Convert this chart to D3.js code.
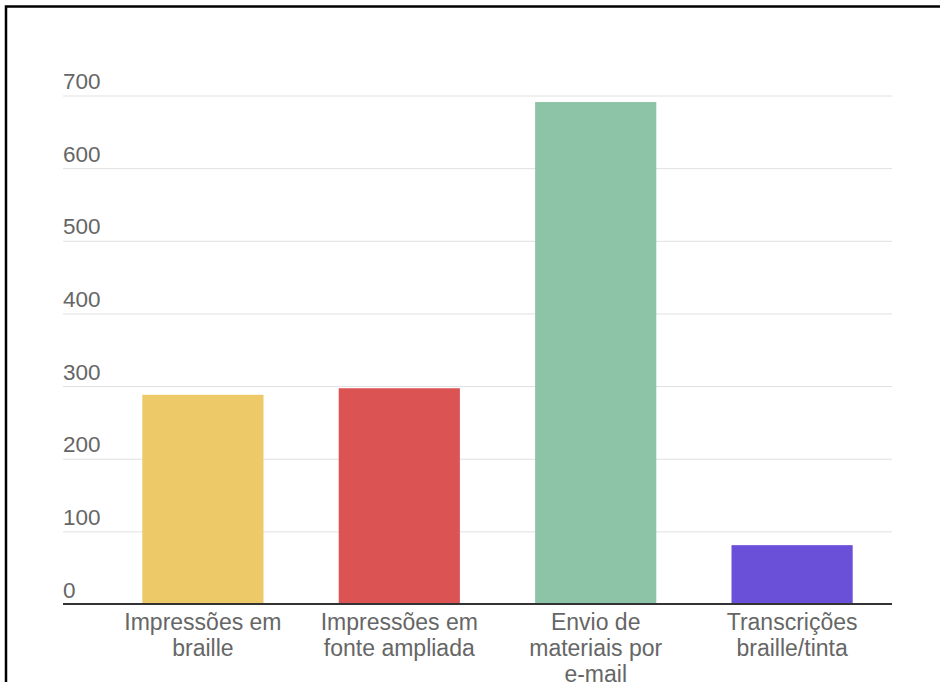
<!DOCTYPE html>
<html>
<head>
<meta charset="utf-8">
<script src="https://cdn.jsdelivr.net/npm/d3@7"></script>
<style>
  body { margin: 0; background: #fff; }
  svg { display: block; font-family: "Liberation Sans", Arial, sans-serif; }
</style>
</head>
<body>
<svg id="chart" width="940" height="682"></svg>
<script>
// data
const categories = [
  ["Impressões em", "braille"],
  ["Impressões em", "fonte ampliada"],
  ["Envio de", "materiais por", "e-mail"],
  ["Transcrições", "braille/tinta"]
];
const values = [288, 297, 691, 81];
const colors = ["#edc967", "#db5353", "#8dc3a7", "#6a4fd9"];
const yTicks = [0, 100, 200, 300, 400, 500, 600, 700];

const svg = d3.select("#chart");

// frame around the picture
svg.append("path")
  .attr("d", "M6,700 V6.5 H945")
  .attr("fill", "none")
  .attr("stroke", "#000")
  .attr("stroke-width", 2.5);

const plotLeft = 105, plotRight = 890, plotTop = 95.5, plotBottom = 604;
const gridLeft = 63, gridRight = 892;

const keys = categories.map((c, i) => i);

const x = d3.scaleBand()
  .domain(keys)
  .range([plotLeft, plotRight])
  .paddingInner(0.383)
  .paddingOuter(0.19);

const y = d3.scaleLinear()
  .domain([0, 700])
  .range([plotBottom, plotTop]);

// gridlines + labels
const yAxis = svg.append("g")
  .attr("transform", `translate(${gridLeft},0)`)
  .call(d3.axisRight(y).tickValues(yTicks).tickSize(gridRight - gridLeft).tickFormat(d3.format("d")));
yAxis.select(".domain").remove();
yAxis.selectAll(".tick line").attr("stroke", "#e0e0e0").attr("stroke-width", 1);
yAxis.selectAll(".tick text")
  .attr("x", 0)
  .attr("dy", -7)
  .attr("fill", "#666")
  .attr("font-size", 22.5)
  .attr("text-anchor", "start");
yAxis.selectAll(".tick").filter(d => d === 0).select("line").remove();

// bars
svg.append("g")
  .selectAll("rect")
  .data(values)
  .join("rect")
  .attr("x", (d, i) => x(i))
  .attr("y", d => y(d))
  .attr("width", x.bandwidth())
  .attr("height", d => y(0) - y(d))
  .attr("fill", (d, i) => colors[i]);

// baseline
svg.append("line")
  .attr("x1", gridLeft).attr("x2", gridRight)
  .attr("y1", y(0)).attr("y2", y(0))
  .attr("stroke", "#333")
  .attr("stroke-width", 2);

// category labels
const xAxis = svg.append("g")
  .attr("transform", `translate(0,${plotBottom})`)
  .call(d3.axisBottom(x).tickSize(0).tickFormat(""));
xAxis.select(".domain").remove();
xAxis.selectAll(".tick").each(function (d) {
  const t = d3.select(this).append("text")
    .attr("fill", "#666")
    .attr("font-size", 23)
    .attr("text-anchor", "middle");
  categories[d].forEach((line, j) => {
    t.append("tspan").attr("x", 0).attr("y", 26 + j * 26).text(line);
  });
});
</script>
</body>
</html>
